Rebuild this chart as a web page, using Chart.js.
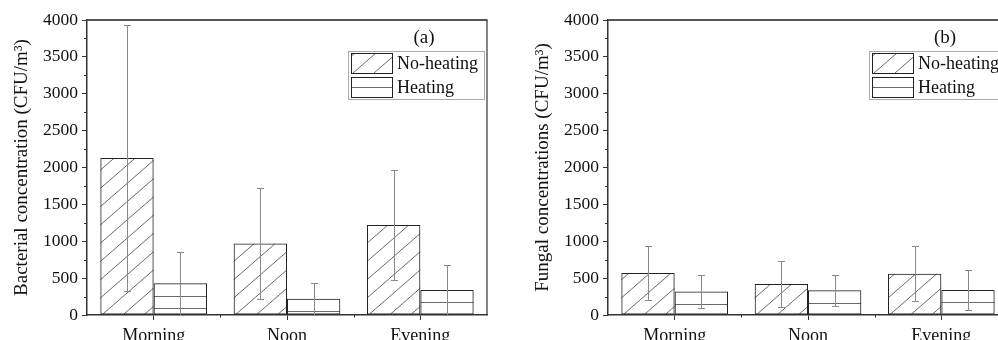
<!DOCTYPE html>
<html>
<head>
<meta charset="utf-8">
<script src="https://cdn.jsdelivr.net/npm/chart.js@4.4.1/dist/chart.umd.min.js"></script>
<style>
  html, body { margin: 0; padding: 0; background: #fff; }
  #wrap { position: relative; width: 998px; height: 340px; overflow: hidden; background: #fff; }
  #bacteria { position: absolute; left: 0; top: 0; }
  #fungi { position: absolute; left: 521px; top: 0; }
</style>
</head>
<body>
<div id="wrap">
  <canvas id="bacteria" width="500" height="340"></canvas>
  <canvas id="fungi" width="500" height="340"></canvas>
</div>
<script>
const categories = ["Morning", "Noon", "Evening"]
const seriesLabels = ["No-heating", "Heating"]

// panel (a) - bacteria, mean and SD
const bacteriaNoHeating = [2130, 970, 1220]
const bacteriaNoHeatingSd = [1800, 750, 750]
const bacteriaHeating = [430, 220, 340]
const bacteriaHeatingSd = [430, 220, 340]

// panel (b) - fungi, mean and SD
const fungiNoHeating = [570, 420, 560]
const fungiNoHeatingSd = [360, 310, 375]
const fungiHeating = [320, 335, 340]
const fungiHeatingSd = [220, 210, 270]

const yMax = 4000
const yStep = 500

const FONT = "'Liberation Serif', 'Times New Roman', serif"
Chart.defaults.font.family = FONT
Chart.defaults.color = "#111"

// hatch fill drawn per bar, clipped to the bar rectangle
function drawHatch(ctx, kind, left, top, right, bottom) {
  ctx.save()
  ctx.beginPath()
  ctx.rect(left, top, right - left, bottom - top)
  ctx.clip()
  ctx.strokeStyle = "#444"
  ctx.lineWidth = 0.8
  ctx.beginPath()
  if (kind === "diag") {
    const h = bottom - top
    const run = h * 1.15
    for (let c = 2 - Math.ceil(run / 21) * 21; c < right - left + 21; c += 21) {
      ctx.moveTo(left + c, bottom)
      ctx.lineTo(left + c + run, top)
    }
  } else {
    for (let y = top + 12.5; y < bottom - 1; y += 12.5) {
      ctx.moveTo(left, Math.round(y) + 0.5)
      ctx.lineTo(right, Math.round(y) + 0.5)
    }
  }
  ctx.stroke()
  ctx.restore()
}

const hatchPlugin = {
  id: "hatch",
  beforeDatasetsDraw(chart) {
    const ctx = chart.ctx
    chart.data.datasets.forEach((ds, i) => {
      const meta = chart.getDatasetMeta(i)
      meta.data.forEach(bar => {
        const { x, y, base, width } = bar.getProps(["x", "y", "base", "width"], true)
        drawHatch(ctx, ds.hatch, x - width / 2, y, x + width / 2, base)
      })
    })
  },
}

const errorBarPlugin = {
  id: "errorBars",
  afterDatasetsDraw(chart) {
    const ctx = chart.ctx
    const yScale = chart.scales.y
    ctx.save()
    ctx.strokeStyle = "#8a8a8a"
    ctx.lineWidth = 1
    chart.data.datasets.forEach((ds, i) => {
      const meta = chart.getDatasetMeta(i)
      meta.data.forEach((bar, j) => {
        const v = ds.data[j]
        const sd = ds.sd[j]
        const x = Math.round(bar.x) + 0.5
        const yHi = Math.round(yScale.getPixelForValue(v + sd)) + 0.5
        const yLo = Math.round(yScale.getPixelForValue(Math.max(0, v - sd))) + 0.5
        ctx.beginPath()
        ctx.moveTo(x, yHi)
        ctx.lineTo(x, yLo)
        ctx.moveTo(x - 3.5, yHi)
        ctx.lineTo(x + 3.5, yHi)
        ctx.moveTo(x - 3.5, yLo)
        ctx.lineTo(x + 3.5, yLo)
        ctx.stroke()
      })
    })
    ctx.restore()
  },
}

// frame, minor ticks, legend box and panel tag
const framePlugin = {
  id: "frame",
  afterDraw(chart, args, opts) {
    const ctx = chart.ctx
    const { left, top, right, bottom } = chart.chartArea
    const xScale = chart.scales.x
    const yScale = chart.scales.y
    ctx.save()

    ctx.strokeStyle = "#555"
    ctx.lineWidth = 2
    ctx.beginPath()
    ctx.moveTo(left, top)
    ctx.lineTo(right + 0.5, top)
    ctx.stroke()
    ctx.strokeStyle = "#333"
    ctx.lineWidth = 1.2
    ctx.beginPath()
    ctx.moveTo(right, top)
    ctx.lineTo(right, bottom)
    ctx.stroke()

    ctx.lineWidth = 1
    ctx.strokeStyle = "#333"
    ctx.beginPath()
    for (let v = yStep / 2; v < yMax; v += yStep) {
      const py = Math.round(yScale.getPixelForValue(v)) + 0.5
      ctx.moveTo(left - 3, py)
      ctx.lineTo(left, py)
    }
    for (let i = 0; i < categories.length - 1; i++) {
      const px = Math.round((xScale.getPixelForValue(i) + xScale.getPixelForValue(i + 1)) / 2) + 0.5
      ctx.moveTo(px, bottom)
      ctx.lineTo(px, bottom + 2.5)
    }
    ctx.stroke()

    // legend
    const bx = right - 139
    const by = top + 31
    ctx.strokeStyle = "#aaa"
    ctx.lineWidth = 1
    ctx.strokeRect(bx + 0.5, by + 0.5, 136, 48)
    ctx.font = "18px " + FONT
    ctx.fillStyle = "#111"
    ctx.textBaseline = "middle"
    ctx.textAlign = "left"
    chart.data.datasets.forEach((ds, i) => {
      const sx = bx + 3
      const sy = by + 2 + i * 24
      ctx.fillStyle = "#fff"
      ctx.fillRect(sx, sy, 41, 20)
      drawHatch(ctx, ds.hatch, sx, sy - (ds.hatch === "diag" ? 0 : 2.5), sx + 41, sy + 20)
      ctx.strokeStyle = "#222"
      ctx.lineWidth = 1
      ctx.strokeRect(sx + 0.5, sy + 0.5, 41, 20)
      ctx.fillStyle = "#111"
      ctx.fillText(ds.label, sx + 46, sy + 11)
    })
    ctx.textAlign = "center"
    ctx.font = "19px " + FONT
    ctx.fillText(opts.tag, bx + 76, top + 18)
    ctx.restore()
  },
}

function makeChart(canvasId, noHeat, noHeatSd, heat, heatSd, yTitle, tag) {
  return new Chart(document.getElementById(canvasId), {
    type: "bar",
    data: {
      labels: categories,
      datasets: [
        { label: seriesLabels[0], data: noHeat, sd: noHeatSd, hatch: "diag" },
        { label: seriesLabels[1], data: heat, sd: heatSd, hatch: "horiz" },
      ].map(ds => ({
        ...ds,
        backgroundColor: "rgba(0,0,0,0)",
        borderColor: "#222",
        borderWidth: 1,
        borderSkipped: false,
        categoryPercentage: 0.8,
        barPercentage: 1.0,
      })),
    },
    options: {
      responsive: false,
      animation: false,
      devicePixelRatio: 1,
      layout: { padding: { left: 0, right: 13, top: 20, bottom: 0 } },
      plugins: {
        legend: { display: false },
        tooltip: { enabled: false },
        frame: { tag: tag },
      },
      scales: {
        x: {
          grid: { offset: false, drawOnChartArea: false, drawTicks: true, tickLength: 5, color: "#333" },
          border: { display: true, color: "#333", width: 1.5 },
          ticks: { font: { size: 18 }, color: "#111", padding: 5, maxRotation: 0 },
          afterFit(scale) { scale.height = 25 },
        },
        y: {
          min: 0,
          max: yMax,
          grid: { drawOnChartArea: false, drawTicks: true, tickLength: 5, color: "#333" },
          border: { display: true, color: "#333", width: 1.5 },
          ticks: { stepSize: yStep, font: { size: 17.5 }, color: "#111", padding: 4, callback: v => String(v) },
          title: { display: true, text: yTitle, font: { size: 19 }, color: "#111", padding: { top: 11, bottom: 0 } },
          afterFit(scale) { scale.width = 87 },
        },
      },
    },
    plugins: [hatchPlugin, errorBarPlugin, framePlugin],
  })
}

makeChart("bacteria", bacteriaNoHeating, bacteriaNoHeatingSd, bacteriaHeating, bacteriaHeatingSd,
  "Bacterial concentration (CFU/m³)", "(a)")
makeChart("fungi", fungiNoHeating, fungiNoHeatingSd, fungiHeating, fungiHeatingSd,
  "Fungal concentrations (CFU/m³)", "(b)")
</script>
</body>
</html>
